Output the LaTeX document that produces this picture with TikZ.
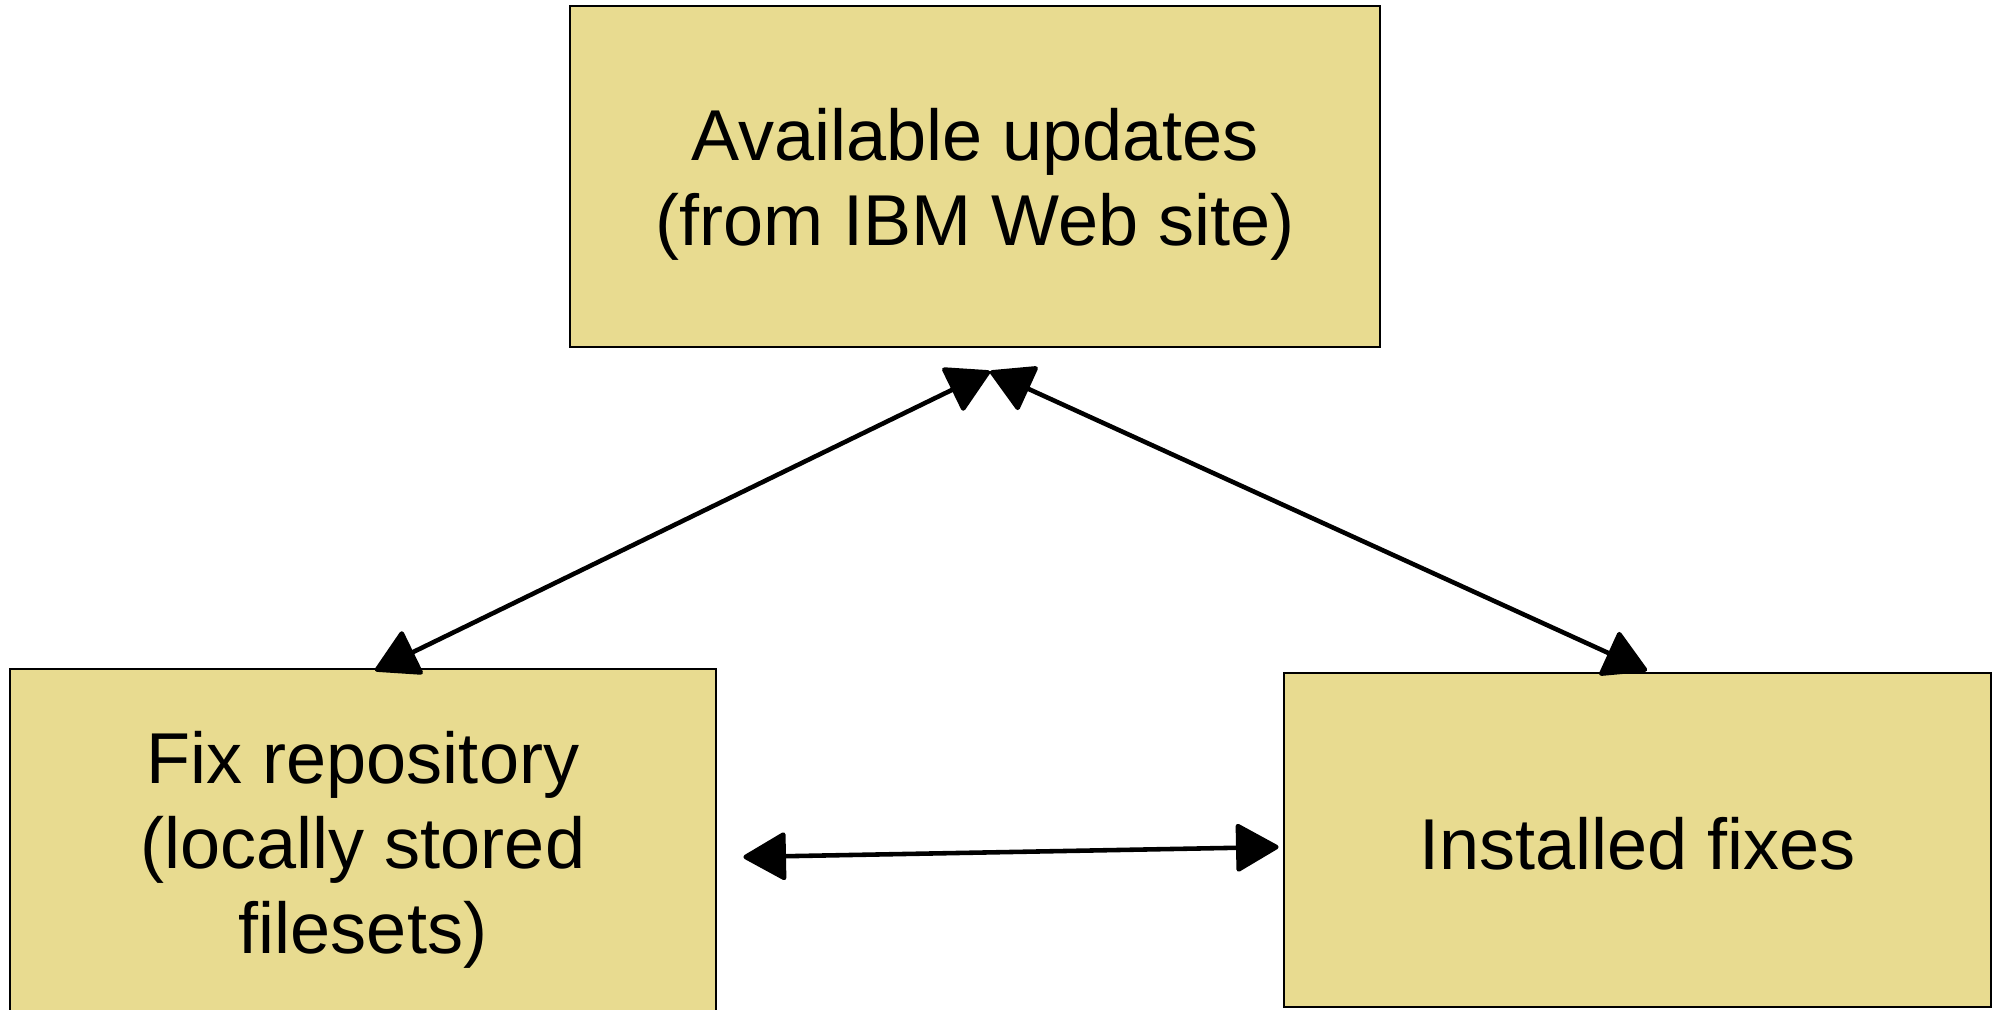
\documentclass[tikz,border=0pt]{standalone}
\usepackage{fontspec}
\setmainfont{Liberation Sans}
\usepackage{tikz}
\usetikzlibrary{arrows.meta}
\definecolor{boxfill}{RGB}{232,219,144}

\begin{document}
\begin{tikzpicture}[
        box/.style={draw=black, line width=0.8pt, fill=boxfill, align=center, inner sep=0pt,
            font=\fontsize{20.5}{24.2}\selectfont},
        link/.style={line width=1.3pt, {Triangle[length=0.45cm,width=0.5cm,round]}-{Triangle[length=0.45cm,width=0.5cm,round]}}
    ]
        \clip (0,0) rectangle (19.99,10.09);
        
        \node[box, minimum width=8.10cm, minimum height=3.41cm] (avail) at (9.75,8.325)
            {\rule{0pt}{19.3pt}Available updates\\(from IBM Web site)};
        \node[box, minimum width=7.06cm, minimum height=3.48cm] (fixrepo) at (3.63,1.66)
            {\rule{0pt}{18.6pt}Fix repository\\(locally stored\\filesets)};
        \node[box, minimum width=7.07cm, minimum height=3.34cm] (installed) at (16.375,1.69)
            {\rule{0pt}{17.2pt}Installed fixes};
        
        \draw[link] ([shift={(0.12,-0.03)}]fixrepo.north) -- ([shift={(0.15,-0.23)}]avail.south);
        \draw[link] ([shift={(0.15,-0.23)}]avail.south) -- ([shift={(0.095,0.01)}]installed.north);
        \draw[link] ([shift={(0.26,-0.14)}]fixrepo.east) -- ([shift={(-0.04,-0.07)}]installed.west);
    \end{tikzpicture}
\end{document}
